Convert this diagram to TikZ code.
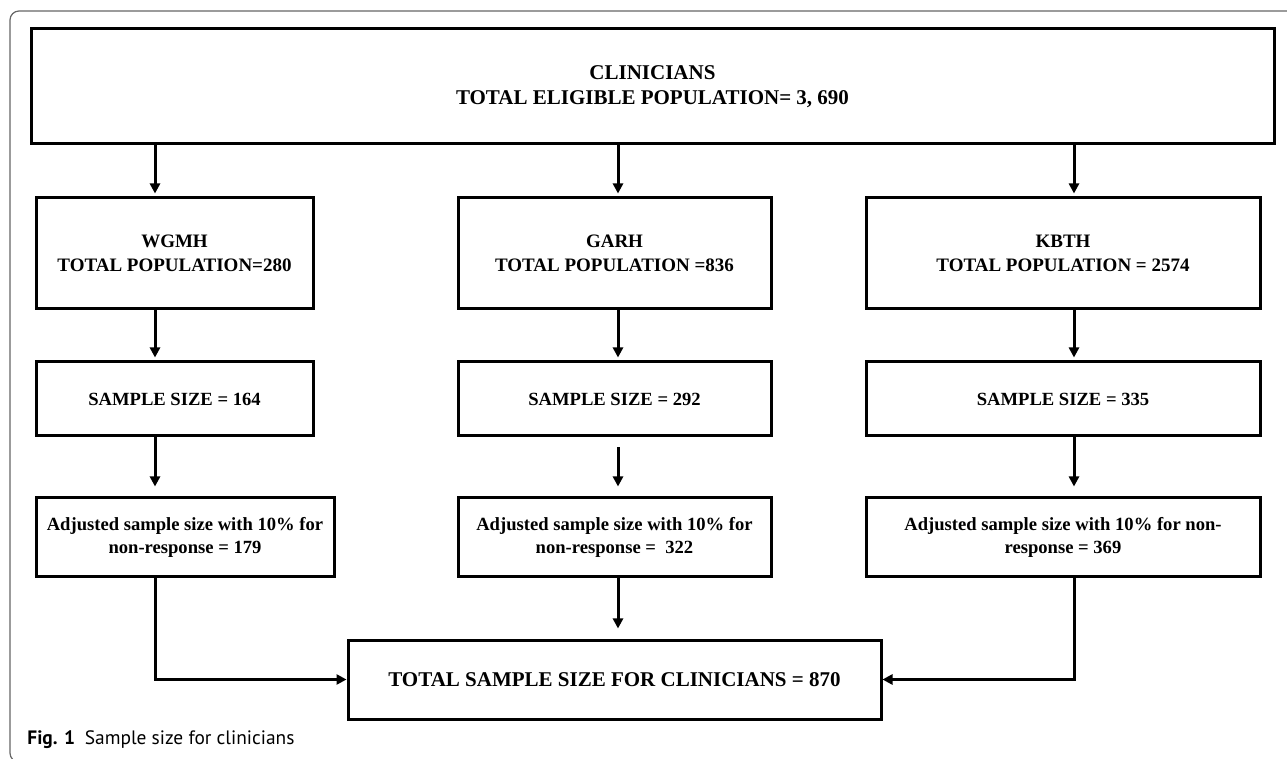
\documentclass[tikz,border=0pt]{standalone}
\usepackage{fontspec}
\setmainfont{Liberation Serif}
\newfontfamily\capfont{PT Sans}
\usetikzlibrary{arrows.meta}

\begin{document}
\begin{tikzpicture}[
    x=0.5pt, y=-0.5pt,        % one unit is one pixel of the figure
    box/.style={
        draw,
        line width=1.5pt,     % heavy black frame
        align=center,
        inner sep=0pt         % the minimum sizes give the frame
    },
    big/.style={font=\bfseries\fontsize{10.5}{12.5}\selectfont},
    mid/.style={font=\bfseries\fontsize{9.5}{12}\selectfont},
    small/.style={font=\bfseries\fontsize{9.3}{11.5}\selectfont},
    link/.style={
        line width=1.5pt,
        -{Triangle[length=5pt,width=5pt]},
        shorten >=1.5pt
    }
]
\useasboundingbox (0,0) rectangle (1287,759);
\begin{scope}
\clip (0,0) rectangle (1287,759);
\draw[black!60, line width=0.6pt, rounded corners=4.5pt] (10,11) rectangle (1300,762);
\end{scope}

% top
\node[box, big, minimum width=621.5pt, minimum height=57.5pt] (clin) at (652.5,86.5)
    {CLINICIANS\\TOTAL ELIGIBLE POPULATION= 3, 690};

% hospitals
\node[box, mid, minimum width=138.5pt, minimum height=55.5pt] (wgmh) at (174.5,253.5)
    {WGMH\\TOTAL POPULATION=280};
\node[box, mid, minimum width=156.5pt, minimum height=55.5pt] (garh) at (614.5,253.5)
    {GARH\\TOTAL POPULATION =836};
\node[box, mid, minimum width=197pt, minimum height=55.5pt] (kbth) at (1063,253.5)
    {KBTH\\TOTAL POPULATION = 2574};

% sample sizes
\node[box, small, minimum width=138.5pt, minimum height=37pt] (wsize) at (174.5,399)
    {SAMPLE SIZE = 164};
\node[box, small, minimum width=156.5pt, minimum height=37pt] (gsize) at (614.5,399)
    {SAMPLE SIZE = 292};
\node[box, small, minimum width=197pt, minimum height=37pt] (ksize) at (1063,399)
    {SAMPLE SIZE = 335};

% adjusted sizes
\node[box, small, minimum width=149pt, minimum height=39.5pt] (wadj) at (185,537.5)
    {Adjusted sample size with 10\% for\\non-response = 179};
\node[box, small, minimum width=156.5pt, minimum height=39.5pt] (gadj) at (614.5,537.5)
    {Adjusted sample size with 10\% for\\non-response =\ \ 322};
\node[box, small, minimum width=197pt, minimum height=39.5pt] (kadj) at (1063,537.5)
    {Adjusted sample size with 10\% for non-\\response = 369};

% total
\node[box, big, minimum width=266.5pt, minimum height=39.5pt] (total) at (614.5,679.5)
    {TOTAL SAMPLE SIZE FOR CLINICIANS = 870};

\node[anchor=west, inner sep=0pt, font=\capfont\fontsize{9.7}{11}\selectfont] (cap) at (27,740)
    {\textbf{Fig. 1}\enspace Sample size for clinicians};

% arrows
\coordinate (cw) at (155,0);
\coordinate (cg) at (618,0);
\coordinate (ck) at (1074,0);
\foreach \c/\a/\b in {cw/wgmh/wsize, cg/garh/gsize, ck/kbth/ksize} {
    \draw[link] (clin.south -| \c) -- (\a.north -| \c);
    \draw[link] (\a.south -| \c) -- (\b.north -| \c);
}
\draw[link, shorten >=5pt] (wsize.south -| cw) -- (wadj.north -| cw);
\draw[link, shorten >=5pt, shorten <=5pt] (gsize.south -| cg) -- (gadj.north -| cg);
\draw[link, shorten >=5pt] (ksize.south -| ck) -- (kadj.north -| ck);
\draw[link, shorten >=0pt] (wadj.south -| cw) |- (total.west);
\draw[link, shorten >=5pt] (gadj.south -| cg) -- (total.north -| cg);
\draw[link, shorten >=0pt] (kadj.south -| ck) |- (total.east);
\end{tikzpicture}
\end{document}
